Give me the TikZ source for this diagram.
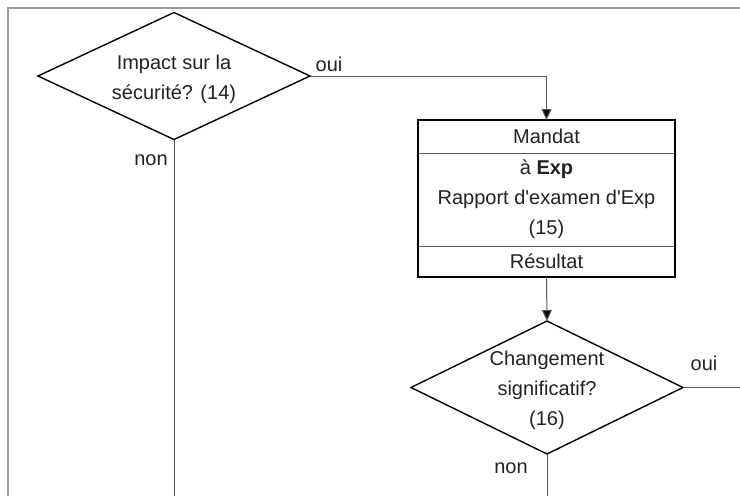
\documentclass[tikz,border=0pt]{standalone}
\usepackage{fontspec}
\setmainfont{Liberation Sans}
\usepackage{xcolor}
\usepackage{tikz}
\usetikzlibrary{positioning,shapes.geometric,arrows.meta}
\definecolor{framegray}{HTML}{9C9C9C}
\definecolor{linegray}{HTML}{5A5A5A}
\definecolor{inkgray}{HTML}{222222}
\tikzset{
  % --- decision diamonds (text set on top, it overflows the outline) ---
  decision/.style={diamond, draw=black, line width=1.4pt, inner sep=0pt,
                   minimum width=272pt, outer sep=0pt},
  dectext/.style={align=center, text=inkgray, inner sep=0pt},
  % --- process block with header / body / footer ---
  procpart/.style={draw=linegray, line width=0.8pt, minimum width=257pt,
                   align=center, text=inkgray, inner sep=0pt, outer sep=0pt},
  procframe/.style={draw=black, line width=1.5pt},
  % --- connectors ---
  flow/.style={draw=linegray, line width=1pt,
               -{Triangle[length=11pt,width=10pt,fill=black]}},
  plain/.style={draw=linegray, line width=1pt},
  lbl/.style={text=inkgray, inner sep=0pt},
  pageframe/.style={draw=framegray, line width=2pt},
}
\newcommand{\apos}{\textquotesingle}

\begin{document}
\begin{tikzpicture}[x=1pt, y=-1pt, font=\fontsize{20}{30}\selectfont]
  \useasboundingbox (0,0) rectangle (740,496);
  % --- page frame, cut at the right and the bottom ---
  \draw[pageframe] (8,496) -- (8,8) -- (740,8);

  % --- decision (14) ---
  \node[decision, minimum height=127pt] (safety) at (174,76) {};
  \node[dectext] (safetytxt) at ([yshift=-3pt]safety.center)
        {Impact sur la\\sécurité? (14)};

  % --- process block (15) ---
  \node[procpart, minimum height=33pt] (mandat) at (546.5,136.5) {Mandat};
  \node[procpart, minimum height=93pt, below=0pt of mandat] (report)
        {à \textbf{Exp}\\Rapport d\apos examen d\apos Exp\\(15)};
  \node[procpart, minimum height=31pt, below=0pt of report] (result) {Résultat};
  \draw[procframe] (mandat.north west) rectangle (result.south east);

  % --- decision (16) ---
  \node[decision, minimum height=133pt] (change) at (547,387.5) {};
  \node[dectext] (changetxt) at ([yshift=-3pt]change.center)
        {Changement\\significatif?\\(16)};

  % --- free ends leaving the cut page ---
  \coordinate (out1) at (174,496);
  \coordinate (out2) at (547,496);
  \coordinate (out3) at (740,387.5);

  % --- connectors ---
  \draw[flow] (safety.east) -| (mandat.north);
  \draw[plain] (safety.south) -- (out1);
  \draw[flow] (result.south) -- (change.north);
  \draw[plain] (change.east) -- (out3);
  \draw[plain] (change.south) -- (out2);

  % --- branch labels ---
  \node[lbl] (yes1) at ([xshift=19pt,yshift=12pt]safety.east) {oui};
  \node[lbl] (no1)  at ([xshift=-23pt,yshift=-21pt]safety.south) {non};
  \node[lbl] (yes2) at ([xshift=21pt,yshift=24pt]change.east) {oui};
  \node[lbl] (no2)  at ([xshift=-36pt,yshift=-14pt]change.south) {non};
\end{tikzpicture}
\end{document}
